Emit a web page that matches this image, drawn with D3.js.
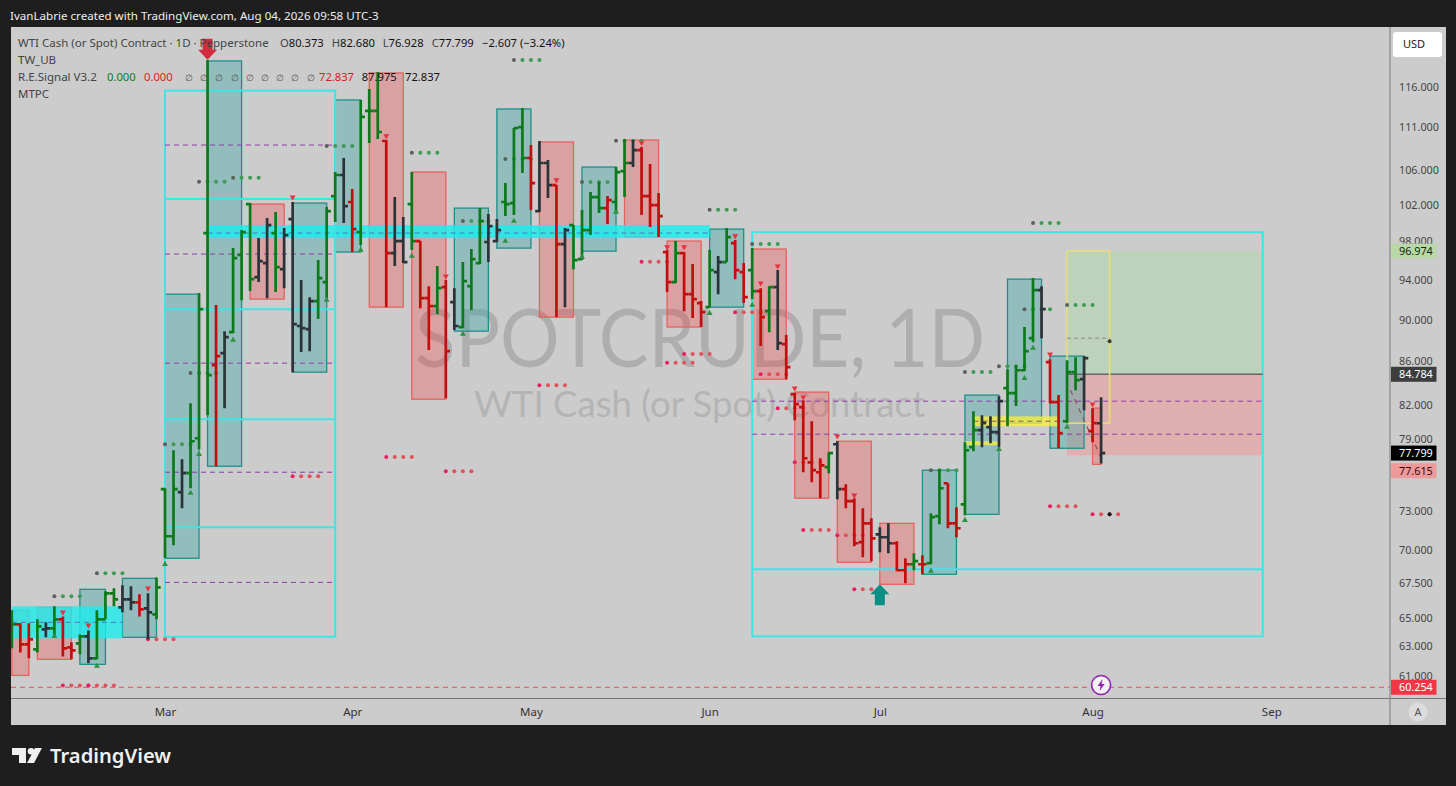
<!DOCTYPE html>
<html>
<head>
<meta charset="utf-8">
<script src="https://d3js.org/d3.v7.min.js"></script>
<style>
  html, body { margin: 0; padding: 0; background: #1e1e1e; overflow: hidden; }
  svg { display: block; }
  text { font-family: "Noto Sans", sans-serif; }
</style>
</head>
<body>
<svg id="chart" width="1456" height="786"></svg>
<script>
// bars: 1D session numbers, 0 = first session of March
const firstBar = -18;
const opens = [64.11,64.54,63.14,62.80,64.18,64.25,64.89,62.94,63.21,63.70,62.19,64.89,66.76,65.75,66.32,66.11,65.67,65.25,
  74.79,71.05,74.55,76.11,79.07,98.91,85.63,86.76,88.77,96.57,102.09,94.27,95.72,98.91,95.09,100.43,89.37,89.07,91.83,93.76,102.98,105.38,102.32,99.01,
  113.01,113.01,109.36,96.77,98.05,102.09,98.05,92.13,91.33,93.24,91.73,89.27,93.34,95.72,97.95,98.05,102.32,102.20,111.04,107.35,101.31,106.77,104.23,97.73,99.78,
  96.14,99.23,102.87,101.64,102.32,105.83,106.77,108.29,102.98,101.97,96.88,93.76,96.77,92.53,91.63,91.23,94.78,95.83,97.84,94.78,94.99,92.84,90.83,93.24,87.62,
  82.97,81.80,77.02,76.19,76.61,78.55,74.79,73.82,70.59,72.06,71.20,70.97,70.51,68.46,68.91,68.91,68.99,72.62,75.28,72.06,73.57,78.30,79.77,80.03,79.59,
  83.51,83.06,85.16,88.19,92.94,85.91,82.24,80.55,84.98,84.33,79.68,80.373];
const highs = [65.53,64.61,64.61,64.89,64.68,65.82,65.10,63.28,63.83,64.11,65.53,66.91,67.13,67.35,67.27,66.69,66.76,67.93,
  74.87,78.04,77.27,82.15,92.64,119.47,91.43,88.87,97.30,99.23,102.20,98.37,100.54,101.20,99.45,102.32,93.96,92.23,96.04,101.75,105.72,107.35,103.77,114.37,
  115.75,117.90,109.48,102.87,100.65,105.72,98.05,93.34,95.41,93.96,93.14,95.83,97.20,101.64,100.98,100.43,104.46,110.92,113.37,108.88,109.36,107.12,104.23,99.45,99.78,
  101.42,103.43,104.57,102.98,106.30,109.60,109.48,108.65,106.65,103.32,97.09,98.05,96.88,95.62,91.83,97.09,96.46,99.45,98.16,95.72,97.30,93.14,93.34,94.99,88.49,
  83.06,82.42,80.55,77.36,77.87,78.81,75.20,74.06,73.25,72.46,71.75,72.06,70.66,69.36,69.74,69.59,72.85,76.44,75.28,73.33,78.72,81.44,81.08,80.98,82.78,
  85.25,85.63,89.27,94.17,93.34,86.19,82.88,86.10,86.38,86.48,81.71,82.68];
const lows = [62.87,62.59,62.19,62.59,63.63,63.77,62.32,62.12,62.46,61.85,62.12,64.89,65.82,65.39,65.53,65.10,63.49,64.89,
  69.36,70.35,73.25,74.87,78.12,81.08,76.69,81.71,88.68,91.93,92.84,93.76,92.13,92.74,93.14,84.98,86.86,86.95,90.05,92.13,100.10,99.99,96.88,97.62,
  109.12,109.60,91.23,95.41,95.72,97.09,91.13,87.05,90.53,82.60,88.97,89.17,90.93,95.62,95.83,97.95,100.76,100.87,105.60,101.42,101.20,102.76,90.24,91.23,95.09,
  96.04,98.69,101.09,99.88,101.09,102.87,106.30,100.87,99.56,98.48,92.74,93.65,90.83,90.15,89.27,91.23,92.53,95.83,94.06,91.63,92.03,87.43,88.77,87.05,84.33,
  80.64,76.19,75.37,74.06,76.11,73.98,73.25,70.28,69.44,69.14,69.82,69.74,68.38,67.49,68.46,68.16,68.91,71.98,71.67,70.97,72.69,77.96,78.30,78.64,78.30,
  80.11,81.89,85.07,87.81,88.19,82.15,78.21,80.38,83.33,81.53,78.73,76.928];
const closes = [64.54,63.14,63.49,64.39,64.25,64.89,62.87,62.73,63.70,62.19,64.89,66.76,66.32,66.32,66.11,65.60,65.39,67.20,
  71.05,74.79,76.11,78.81,91.03,84.70,86.48,88.29,96.25,99.01,94.06,95.93,99.78,95.30,98.69,89.56,89.17,91.83,94.17,101.31,105.38,101.86,99.34,112.27,
  113.01,110.44,96.77,98.05,95.83,98.05,92.13,91.33,93.14,86.95,89.37,93.86,96.14,100.21,99.67,99.23,102.09,110.92,107.35,104.46,106.77,104.23,97.73,99.23,96.04,
  99.23,102.87,101.64,102.54,105.72,106.77,108.29,102.98,101.97,100.76,93.76,96.77,92.53,92.03,90.73,94.99,95.83,98.48,94.99,92.23,92.84,90.24,93.24,87.71,85.44,
  82.06,77.36,76.36,76.77,77.79,74.79,73.82,70.51,72.06,70.89,70.97,70.51,68.46,68.91,69.14,68.91,72.54,74.87,72.06,71.67,78.04,79.77,80.38,79.59,82.33,
  83.06,85.16,86.95,92.94,91.03,82.24,79.51,84.98,84.24,86.29,80.38,77.799];
// g = long signal, r = short signal, k = neutral, in weekly runs
const barTones = [
  'grrgkgrrgkgggkkrkg', 'ggkgg', 'grkgg', 'gkkgk', 'kkkgg', 'gkrg',
  'ggrkk', 'grrgr', 'kgggk', 'kgggr', 'kkrkg', 'gggrg', 'gkrrr', 'rgrrr', 'gkgrr', 'grgkr',
  'rrrrg', 'krrrr', 'kkrrg', 'rggrr', 'ggkkk', 'ggggk', 'rrggk', 'rk'
].join('').split('');

// weekly boxes
const zoneStart = [-18,-15,-10,-5,0,5,10,15,20,24,29,34,39,44,49,54,59,64,69,74,79,84,89,94,99,104,109];
const zoneEnd = [-16,-11,-7,-1,4,9,14,19,23,28,33,38,43,48,53,58,63,68,73,78,83,88,93,98,103,108,110];
const zoneTop = [65.53,65.75,67.05,67.86,92.53,119.34,102.09,102.20,114.37,117.79,105.72,101.64,113.25,109.24,106.30,109.48,98.05,99.34,97.20,83.15,78.81,72.06,76.36,82.88,94.06,86.48,81.71];
const zoneBottom = [61.04,62.12,61.78,63.63,69.36,76.69,92.03,84.98,96.88,91.23,82.51,88.87,97.30,90.24,96.98,98.48,89.27,91.23,84.33,74.06,69.06,67.42,68.16,72.77,80.38,78.21,76.85];
const zoneTone = ['r','r','t','t','t','t','r','t','t','r','r','t','t','r','t','r','r','t','r','r','r','r','t','t','t','t','r'];

// monthly frames
const frameLeft = { from: 0, to: 20, top: 115.54, bottom: 63.67, rules: [102.65,91.03,80.73,71.75], dashes: [108.88,96.67,85.82,76.19,67.56] };
const frameRight = { from: 69, to: 129, top: 99.01, bottom: 63.70, rules: [68.53], dashes: [82.33,79.42] };

// supply/demand bands: from, to, top, bottom, mid
const cyanBandFrom = [5,-18], cyanBandTo = [64,-5], cyanBandTop = [99.78,65.82], cyanBandBottom = [98.37,63.56], cyanBandMid = [98.91,64.68];
const yellowBandFrom = [95,94], yellowBandTo = [105,98], yellowBandTop = [80.98,78.81], yellowBandBottom = [80.11,78.47];
const yellowMid = 80.55;

// long position tool
const posFrom = 106, posTo = 129, entry = 84.784, target = 96.974, stop = 77.615;
const projTop = 96.974, projBottom = 80.38, projTo = 111, projMid = 88.19, projDot = 87.9;
const diagFrom = [106.4, 83.33], diagTo = [110, 77.40];
const lastLow = 60.254;

// pivot dots, each group runs over four sessions
const greenDotStart = [4,8,19,29,41,3,0,35,40,49,53,64,69,90,94,98,102,101,106,-13,-8];
const greenDotPrice = [104.6,105.06,108.77,107.97,119.47,84.91,78.55,100.21,107.24,104.57,109.4,101.45,97.73,76.36,85.0,85.53,99.99,91.03,91.43,66.54,68.23];
const redDotStart = [15,26,33,56,59,61,44,67,70,72,74,75,79,81,104,109,-2,-12,-9];
const redDotPrice = [75.86,77.47,76.28,95.86,85.85,86.67,83.78,90.73,84.79,81.71,77.02,71.53,71.12,67.05,73.41,72.77,63.49,60.37,60.37];

// signal triangles
const upBar = [-13,-8,0,3,4,8,19,23,29,35,40,41,49,53,64,69,90,94,98,101,102,106];
const upPrice = [63.70,61.66,68.91,74.47,77.70,88.0,91.93,97.09,96.46,88.58,98.05,100.21,96.35,101.2,90.63,91.43,68.41,72.30,78.12,84.42,87.24,80.03];
const downBar = [-12,-9,-2,15,26,33,46,56,59,61,67,70,72,74,75,79,81,104,109];
const downPrice = [65.39,64.47,67.13,102.87,109.96,94.37,104.80,109.16,97.41,97.41,98.59,93.65,95.41,83.51,82.69,79.25,74.30,86.67,82.06];
const bigDownBar = 5, bigDownPrice = 119.5;
const bigUpBar = 84, bigUpPrice = 67.42;

// axes
const monthLabels = ['Mar','Apr','May','Jun','Jul','Aug','Sep'];
const monthBars = [0,22,43,64,84,109,130];
const priceTicks = [116,111,106,102,98,94,90,86,82,79,76,73,70,67.5,65,63,61];

const W = 1456, H = 786;
const plot = { left: 11, right: 1390, top: 27, bottom: 698, axisBottom: 725, edge: 1446 };

const x = d3.scaleLinear().domain([0, 130]).range([165, 1271.3]);
const y = d3.scaleLog().domain([61, 116]).range([676, 87]);

const svg = d3.select('#chart');

svg.append('rect').attr('width', W).attr('height', H).attr('fill', '#1e1e1e');
svg.append('rect')
  .attr('x', plot.left).attr('y', plot.top)
  .attr('width', plot.edge - plot.left).attr('height', plot.axisBottom - plot.top)
  .attr('fill', '#cccccc');

svg.append('clipPath').attr('id', 'plot-clip').append('rect')
  .attr('x', plot.left).attr('y', plot.top)
  .attr('width', plot.right - plot.left).attr('height', plot.bottom - plot.top);

const g = svg.append('g').attr('clip-path', 'url(#plot-clip)');

// Watermark
g.append('text').attr('x', 415).attr('y', 367)
  .attr('font-size', 82).attr('textLength', 570).attr('lengthAdjust', 'spacingAndGlyphs')
  .style('font-family', 'Lato, sans-serif').attr('fill', '#aeaeae').text('SPOTCRUDE, 1D');
g.append('text').attr('x', 474).attr('y', 417)
  .attr('font-size', 37).attr('textLength', 451).attr('lengthAdjust', 'spacingAndGlyphs')
  .style('font-family', 'Lato, sans-serif').attr('fill', '#b4b4b4').text('WTI Cash (or Spot) Contract');

// Position tool
g.append('rect').attr('x', x(posFrom)).attr('width', x(posTo) - x(posFrom))
  .attr('y', y(target)).attr('height', y(entry) - y(target)).attr('fill', '#bdd2bb');
g.append('rect').attr('x', x(posFrom)).attr('width', x(posTo) - x(posFrom))
  .attr('y', y(entry)).attr('height', y(stop) - y(entry)).attr('fill', '#deb0b0');

// Weekly boxes
g.append('g').selectAll('rect')
  .data(zoneStart)
  .join('rect')
  .attr('x', d => x(d))
  .attr('width', (d, i) => x(zoneEnd[i]) - x(d))
  .attr('y', (d, i) => y(zoneTop[i]))
  .attr('height', (d, i) => y(zoneBottom[i]) - y(zoneTop[i]))
  .attr('fill', (d, i) => zoneTone[i] === 't' ? 'rgba(62,167,165,0.4)' : 'rgba(255,30,30,0.25)')
  .attr('stroke', (d, i) => zoneTone[i] === 't' ? '#1f8f8a' : '#e8615f')
  .attr('stroke-width', 1.3);

// Bands
cyanBandFrom.forEach((d, i) => {
  g.append('rect').attr('x', x(d)).attr('width', x(cyanBandTo[i]) - x(d))
    .attr('y', y(cyanBandTop[i])).attr('height', y(cyanBandBottom[i]) - y(cyanBandTop[i]))
    .attr('fill', 'rgba(30,235,235,0.82)');
  g.append('line').attr('x1', x(d)).attr('x2', x(cyanBandTo[i]))
    .attr('y1', y(cyanBandMid[i])).attr('y2', y(cyanBandMid[i]))
    .attr('stroke', '#5a6fc0').attr('stroke-width', 1).attr('stroke-dasharray', '5 4');
});
yellowBandFrom.forEach((d, i) => {
  g.append('rect').attr('x', x(d)).attr('width', x(yellowBandTo[i]) - x(d))
    .attr('y', y(yellowBandTop[i])).attr('height', y(yellowBandBottom[i]) - y(yellowBandTop[i]))
    .attr('fill', 'rgba(250,240,60,0.75)');
});
g.append('line').attr('x1', x(yellowBandFrom[0])).attr('x2', x(yellowBandTo[0]))
  .attr('y1', y(yellowMid)).attr('y2', y(yellowMid))
  .attr('stroke', '#8a5a50').attr('stroke-width', 1).attr('stroke-dasharray', '5 4');

// Frames
[frameLeft, frameRight].forEach(f => {
  g.append('rect').attr('x', x(f.from)).attr('width', x(f.to) - x(f.from))
    .attr('y', y(f.top)).attr('height', y(f.bottom) - y(f.top))
    .attr('fill', 'none').attr('stroke', '#3ce6e6').attr('stroke-width', 2);
  g.selectAll(null).data(f.rules).join('line')
    .attr('x1', x(f.from)).attr('x2', x(f.to))
    .attr('y1', d => y(d)).attr('y2', d => y(d))
    .attr('stroke', '#3ce6e6').attr('stroke-width', 2);
  g.selectAll(null).data(f.dashes).join('line')
    .attr('x1', x(f.from)).attr('x2', x(f.to))
    .attr('y1', d => y(d)).attr('y2', d => y(d))
    .attr('stroke', '#8e3aa8').attr('stroke-width', 1).attr('stroke-dasharray', '5 4');
});

// Position outline
g.append('line').attr('x1', x(posFrom)).attr('x2', x(posTo))
  .attr('y1', y(entry)).attr('y2', y(entry))
  .attr('stroke', '#666').attr('stroke-width', 1.5);
g.append('rect').attr('x', x(posFrom)).attr('width', x(projTo) - x(posFrom))
  .attr('y', y(projTop)).attr('height', y(projBottom) - y(projTop))
  .attr('fill', 'none').attr('stroke', '#e8de7a').attr('stroke-width', 1.5);
g.append('line').attr('x1', x(posFrom)).attr('x2', x(projTo))
  .attr('y1', y(projMid)).attr('y2', y(projMid))
  .attr('stroke', '#8a8a8a').attr('stroke-width', 1).attr('stroke-dasharray', '4 3');
g.append('line').attr('x1', x(diagFrom[0])).attr('y1', y(diagFrom[1]))
  .attr('x2', x(diagTo[0])).attr('y2', y(diagTo[1]))
  .attr('stroke', '#7a5a5a').attr('stroke-width', 1.2).attr('stroke-dasharray', '5 5');

// Last low line
g.append('line').attr('x1', plot.left).attr('x2', plot.right)
  .attr('y1', y(lastLow)).attr('y2', y(lastLow))
  .attr('stroke', '#e0506a').attr('stroke-width', 1).attr('stroke-dasharray', '5 4');

// Pivot dots
const dotOffsets = [0, 1, 2, 3];
function drawDots(starts, prices, firstColor, restColor) {
  starts.forEach((s, i) => {
    g.append('g').selectAll('circle').data(dotOffsets).join('circle')
      .attr('cx', d => x(s + d))
      .attr('cy', y(prices[i]))
      .attr('r', 2)
      .attr('fill', d => d === 0 ? firstColor : restColor);
  });
}
drawDots(greenDotStart, greenDotPrice, '#5a625c', '#3e9a55');
drawDots(redDotStart, redDotPrice, '#ea1e63', '#e0525a');

// OHLC bars
const toneColor = { g: '#0c7a1a', r: '#c40d0d', k: '#2b3338' };
const tickLen = 4.2;
g.append('g').selectAll('path')
  .data(opens)
  .join('path')
  .attr('d', (o, i) => {
    const px = x(firstBar + i);
    return `M${px},${y(highs[i])}V${y(lows[i])}M${px - tickLen},${y(o)}H${px}M${px},${y(closes[i])}H${px + tickLen}`;
  })
  .attr('fill', 'none')
  .attr('stroke', (o, i) => toneColor[barTones[i]])
  .attr('stroke-width', 2.7);

// Last dark dots on top of bars
g.append('circle').attr('cx', x(projTo)).attr('cy', y(projDot)).attr('r', 2).attr('fill', '#3a3a2a');
g.append('circle').attr('cx', x(111)).attr('cy', y(redDotPrice[15])).attr('r', 2).attr('fill', '#1a1a1a');

// Triangles
const tri = d3.symbol().type(d3.symbolTriangle).size(15);
g.append('g').selectAll('path').data(upBar).join('path')
  .attr('d', tri)
  .attr('transform', (d, i) => `translate(${x(d)},${y(upPrice[i])})`)
  .attr('fill', '#2f8f44');
g.append('g').selectAll('path').data(downBar).join('path')
  .attr('d', tri)
  .attr('transform', (d, i) => `translate(${x(d)},${y(downPrice[i])}) rotate(180)`)
  .attr('fill', '#e6323e');

// Big arrows, tip at the price
function bigArrow(bar, price, dir, color) {
  const px = x(bar), tip = y(price);
  const pts = [[0, 0], [9.5, 10 * dir], [5, 10 * dir], [5, 21 * dir], [-5, 21 * dir], [-5, 10 * dir], [-9.5, 10 * dir]];
  svg.append('polygon')
    .attr('points', pts.map(p => [px + p[0], tip + p[1]].join(',')).join(' '))
    .attr('fill', color);
}
bigArrow(bigDownBar, bigDownPrice, -1, '#d12b40');
bigArrow(bigUpBar, bigUpPrice, 1, '#0b8f84');

// Lightning marker
const bolt = svg.append('g').attr('transform', `translate(${x(110)},685)`);
bolt.append('circle').attr('r', 9.5).attr('fill', '#f4f0f6').attr('stroke', '#8e24aa').attr('stroke-width', 1.6);
bolt.append('path').attr('d', 'M1.5,-6 L-3.5,1 L-0.5,1 L-1.5,6 L3.5,-1 L0.5,-1 Z').attr('fill', '#8e24aa');

// Axis separators
svg.append('line').attr('x1', plot.left).attr('x2', plot.edge).attr('y1', plot.bottom + 0.5).attr('y2', plot.bottom + 0.5).attr('stroke', '#777').attr('stroke-width', 1.2);
svg.append('line').attr('x1', plot.right).attr('x2', plot.right).attr('y1', plot.top).attr('y2', plot.axisBottom).attr('stroke', '#888').attr('stroke-width', 1.2);

// Price axis
const yAxis = d3.axisRight(y).tickValues(priceTicks).tickSize(0).tickPadding(9).tickFormat(d3.format('.3f'));
const yG = svg.append('g').attr('transform', `translate(${plot.right},0)`).call(yAxis);
yG.select('.domain').remove();
yG.selectAll('text').attr('font-size', 10.8).attr('fill', '#444').style('font-family', '"Noto Sans", sans-serif');

// Time axis
const xAxis = d3.axisBottom(x).tickValues(monthBars).tickSize(0).tickPadding(10).tickFormat((d, i) => monthLabels[i]);
const xG = svg.append('g').attr('transform', `translate(0,${plot.bottom})`).call(xAxis);
xG.select('.domain').remove();
xG.selectAll('text').attr('font-size', 11.5).attr('fill', '#333').style('font-family', '"Noto Sans", sans-serif');

// Price labels
const labelPrice = [target, entry, 77.799, stop, lastLow];
const labelText = ['96.974', '84.784', '77.799', '77.615', '60.254'];
const labelOffset = [0, 0, 0, 15.5, 0];
const labelFill = ['#b8d8a8', '#3d3d3d', '#000', '#ee9a9a', '#f23645'];
const labelInk = ['#0a2a0a', '#fff', '#fff', '#3a0a0a', '#fff'];
const labels = svg.append('g').selectAll('g').data(labelPrice).join('g')
  .attr('transform', (d, i) => `translate(${plot.right + 1},${y(d) + labelOffset[i]})`);
labels.append('rect').attr('y', -7.5).attr('width', 45.5).attr('height', 15)
  .attr('fill', (d, i) => labelFill[i]);
labels.append('text').attr('x', 8).attr('dy', '0.35em').attr('font-size', 10.8)
  .attr('fill', (d, i) => labelInk[i]).text((d, i) => labelText[i]);

// USD button
svg.append('rect').attr('x', 1393).attr('y', 32).attr('width', 49).attr('height', 25).attr('rx', 3).attr('fill', '#fff');
svg.append('text').attr('x', 1403).attr('y', 48).attr('font-size', 11).attr('fill', '#222').text('USD');

// Auto button
svg.append('circle').attr('cx', 1418).attr('cy', 712).attr('r', 9.5).attr('fill', '#dcdcdc');
svg.append('text').attr('x', 1418).attr('y', 716).attr('text-anchor', 'middle').attr('font-size', 11).attr('fill', '#555').text('A');

// Header
svg.append('text').attr('x', 10).attr('y', 20).attr('font-size', 11.6).attr('fill', '#eeeeee')
  .text('IvanLabrie created with TradingView.com, Aug 04, 2026 09:58 UTC-3');

// Legend rows
const legendInk = '#434343';
function legend(px, py, txt, fill, size) {
  svg.append('text').attr('x', px).attr('y', py).attr('font-size', size || 11.5).attr('fill', fill || legendInk).text(txt);
}
legend(18, 47, 'WTI Cash (or Spot) Contract · 1D · Pepperstone');
const ohlcLabel = ['O', 'H', 'L', 'C'];
const ohlcValue = ['80.373', '82.680', '76.928', '77.799'];
const ohlcX = [280, 331.7, 382.7, 431.7];
ohlcLabel.forEach((d, i) => {
  const t = svg.append('text').attr('x', ohlcX[i]).attr('y', 47).attr('font-size', 11.2).attr('fill', legendInk);
  t.append('tspan').text(d);
  t.append('tspan').attr('fill', '#111').text(ohlcValue[i]);
});
legend(482, 47, '−2.607 (−3.24%)', '#111', 11.2);
legend(18, 64, 'TW_UB');
legend(18, 81, 'R.E.Signal V3.2');
legend(107, 81, '0.000', '#0c7a1a', 11.2);
legend(144, 81, '0.000', '#d81c1c', 11.2);
const emptySlots = [185, 200.2, 215.4, 230.6, 245.8, 261, 276, 291.4, 306.6];
emptySlots.forEach(d => legend(d, 81, '∅', '#555', 9));
legend(319, 81, '72.837', '#d81c1c', 11.2);
legend(361.7, 81, '87.975', '#111', 11.2);
legend(405, 81, '72.837', '#111', 11.2);
legend(18, 98, 'MTPC');

// TradingView logo
svg.append('path').attr('d', 'M12,748H26V763H19V755H12Z').attr('fill', '#f0f0f0');
svg.append('circle').attr('cx', 31).attr('cy', 751.3).attr('r', 3.3).attr('fill', '#f0f0f0');
svg.append('path').attr('d', 'M35,748H42L34,763H27Z').attr('fill', '#f0f0f0');
svg.append('text').attr('x', 50).attr('y', 763).attr('font-size', 20.2).attr('font-weight', 600).attr('fill', '#f0f0f0').text('TradingView');
</script>
</body>
</html>
